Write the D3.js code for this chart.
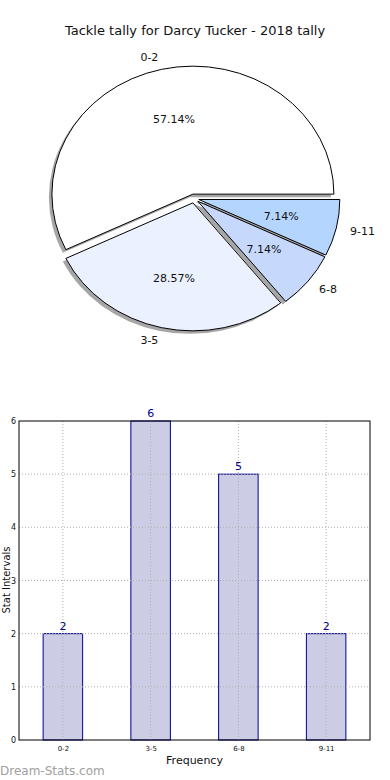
<!DOCTYPE html>
<html>
<head>
<meta charset="utf-8">
<script src="https://cdn.jsdelivr.net/npm/d3@7"></script>
<style>
  body { margin: 0; background: #fff; }
  svg { font-family: "DejaVu Sans", sans-serif; display: block; }
</style>
</head>
<body>
<div id="graf"></div>
<script>
// Datos
const titulo = "Tackle tally for Darcy Tucker - 2018 tally"
const categorias = ["0-2", "3-5", "6-8", "9-11"]
const porciones = [8, 4, 1, 1]
const coloresPie = ["#ffffff", "#ebf1fe", "#c6d9fd", "#b4d5fe"]
const barras = [2, 6, 5, 2]
const yTicks = [0, 1, 2, 3, 4, 5, 6]

const anchoTotal = 390
const altoTotal = 780

const svg = d3.select("#graf")
  .append("svg")
  .attr("width", anchoTotal)
  .attr("height", altoTotal)

// ---------- Pie ----------
svg.append("text")
  .attr("x", 195)
  .attr("y", 35)
  .attr("text-anchor", "middle")
  .attr("font-size", 13)
  .attr("fill", "#111")
  .text(titulo)

const cx = 194, cy = 198.5, rx = 141, ry = 128
const explode = 0.035
const sombra = { dx: -3, dy: 3 }

// angulos estilo matplotlib: empieza a las 3 y gira antihorario
const pie = d3.pie().sort(null).startAngle(Math.PI / 2).endAngle(Math.PI / 2 - 2 * Math.PI)
const arcos = pie(porciones)
const total = d3.sum(porciones)
const arc = d3.arc().innerRadius(0).outerRadius(1)

const pieG = svg.append("g")

const offset = (d, k) => {
  const a = (d.startAngle + d.endAngle) / 2
  return [Math.sin(a) * k, -Math.cos(a) * k]
}

// sombras
arcos.forEach((d) => {
  const [ox, oy] = offset(d, explode)
  pieG.append("path")
    .attr("d", arc(d))
    .attr("transform", `translate(${cx + ox * rx + sombra.dx}, ${cy + oy * ry + sombra.dy}) scale(${rx}, ${ry})`)
    .attr("fill", "#4d4d4d")
    .attr("fill-opacity", 0.5)
})

// porciones
arcos.forEach((d, i) => {
  const [ox, oy] = offset(d, explode)
  pieG.append("path")
    .attr("d", arc(d))
    .attr("transform", `translate(${cx + ox * rx}, ${cy + oy * ry}) scale(${rx}, ${ry})`)
    .attr("fill", coloresPie[i])
    .attr("stroke", "#000")
    .attr("stroke-width", 1)
    .attr("vector-effect", "non-scaling-stroke")
})

// etiquetas
arcos.forEach((d, i) => {
  const [ox, oy] = offset(d, explode)
  const [lx, ly] = offset(d, 1.1)
  const [px, py] = offset(d, 0.6)
  const bx = cx + ox * rx, by = cy + oy * ry
  pieG.append("text")
    .attr("x", bx + lx * rx)
    .attr("y", by + ly * ry)
    .attr("dy", "0.35em")
    .attr("text-anchor", lx > 0 ? "start" : "end")
    .attr("font-size", 11)
    .attr("fill", "#111")
    .text(categorias[i])
  pieG.append("text")
    .attr("x", bx + px * rx)
    .attr("y", by + py * ry)
    .attr("dy", "0.35em")
    .attr("text-anchor", "middle")
    .attr("font-size", 11)
    .attr("fill", "#111")
    .text((porciones[i] / total * 100).toFixed(2) + "%")
})

// ---------- Barras ----------
const x = d3.scalePoint().domain(categorias).range([19, 370]).padding(0.5)
const y = d3.scaleLinear().domain([0, 6]).range([740, 421])
const anchoBarra = 39.5

const barG = svg.append("g")

barG.selectAll("rect.bar")
  .data(barras)
  .enter()
  .append("rect")
  .attr("class", "bar")
  .attr("x", (d, i) => x(categorias[i]) - anchoBarra / 2)
  .attr("y", (d) => y(d))
  .attr("width", anchoBarra)
  .attr("height", (d) => y(0) - y(d))
  .attr("fill", "#ccccE5")
  .attr("stroke", "#00008b")
  .attr("stroke-width", 1)

// grilla
barG.selectAll("line.gx")
  .data(categorias)
  .enter()
  .append("line")
  .attr("x1", (d) => x(d)).attr("x2", (d) => x(d))
  .attr("y1", 421).attr("y2", 740)
  .attr("stroke", "#b0b0b0")
  .attr("stroke-dasharray", "1,2")
barG.selectAll("line.gy")
  .data(yTicks.slice(1, -1))
  .enter()
  .append("line")
  .attr("x1", 19).attr("x2", 370)
  .attr("y1", (d) => y(d)).attr("y2", (d) => y(d))
  .attr("stroke", "#b0b0b0")
  .attr("stroke-dasharray", "1,2")

// marco
barG.append("rect")
  .attr("x", 19).attr("y", 421)
  .attr("width", 351).attr("height", 319)
  .attr("fill", "none")
  .attr("stroke", "#000")
  .attr("stroke-width", 1)

// ejes
const yAxis = d3.axisLeft(y).tickValues(yTicks).tickFormat(d3.format("d")).tickSize(0).tickPadding(3)
barG.append("g")
  .attr("transform", "translate(19, 0)")
  .call(yAxis)
  .call((g) => g.select(".domain").remove())
  .selectAll("text")
  .attr("font-size", 8)
  .attr("font-family", "DejaVu Sans")
  .attr("fill", "#111")

const xAxis = d3.axisBottom(x).tickSize(0).tickPadding(6)
barG.append("g")
  .attr("transform", "translate(0, 740)")
  .call(xAxis)
  .call((g) => g.select(".domain").remove())
  .selectAll("text")
  .attr("font-size", 7)
  .attr("font-family", "DejaVu Sans")
  .attr("fill", "#111")

// valores
barG.selectAll("text.val")
  .data(barras)
  .enter()
  .append("text")
  .attr("class", "val")
  .attr("x", (d, i) => x(categorias[i]))
  .attr("y", (d) => y(d) - 4)
  .attr("text-anchor", "middle")
  .attr("font-size", 11)
  .attr("fill", "#00008b")
  .text((d) => d)

// titulos de ejes
barG.append("text")
  .attr("x", 194.5)
  .attr("y", 764)
  .attr("text-anchor", "middle")
  .attr("font-size", 11)
  .attr("fill", "#111")
  .text("Frequency")

barG.append("text")
  .attr("transform", "translate(10, 580) rotate(-90)")
  .attr("text-anchor", "middle")
  .attr("font-size", 10)
  .attr("fill", "#111")
  .text("Stat Intervals")

svg.append("text")
  .attr("x", 0)
  .attr("y", 775)
  .attr("font-size", 12)
  .attr("fill", "#a0a0a0")
  .text("Dream-Stats.com")
</script>
</body>
</html>
